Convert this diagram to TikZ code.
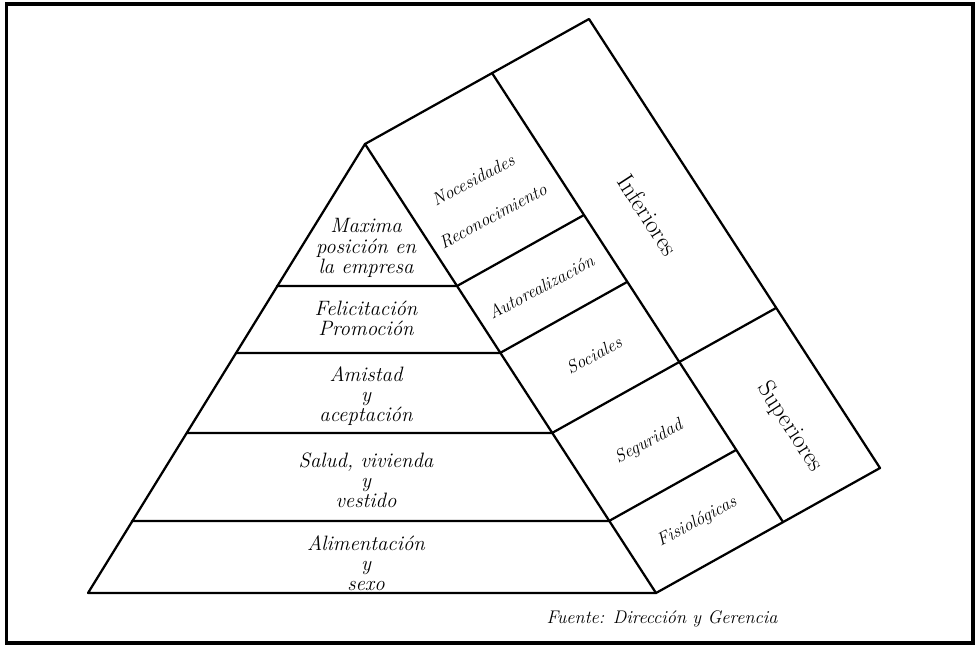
\documentclass[tikz,border=0pt]{standalone}
\usepackage{tikz}
\usetikzlibrary{positioning,calc}

\tikzset{
  edge/.style={line width=1.6pt, line join=round, line cap=round},
  level/.style={font=\fontsize{14.8}{14.3}\selectfont\itshape, align=center, inner sep=0pt},
  need/.style={font=\fontsize{12.7}{12.7}\selectfont\itshape, rotate=28, inner sep=0pt},
  group/.style={font=\fontsize{17.5}{17.5}\selectfont, rotate=-57, inner sep=0pt},
}

\begin{document}
\begin{tikzpicture}[x=0.025cm, y=-0.025cm]
    \useasboundingbox (0,0) rectangle (977,645);
    % Frame
    \draw[line width=2.6pt] (6.5,4) rectangle (973,643);

    % Corners
    \coordinate (apex) at (365,144);
    \coordinate (backtop) at (589,19);
    \coordinate (backright) at (880,468);
    \coordinate (right) at (656,593);
    \coordinate (left) at (88,593);
    \coordinate (split top) at (492,73);
    \coordinate (split bot) at (783,522);

    % Structure
    \draw[edge] (left) -- (apex) -- (backtop) -- (backright) -- (right) -- cycle;
    \draw[edge] (apex) -- (right);
    \draw[edge] (split top) -- (split bot);

    % Layers
    \draw[edge] (277,286) -- (457,286) -- (584,215);
    \draw[edge] (236,353) -- (500,353) -- (627,282);
    \draw[edge] (187,433) -- (552,433) -- (776,308);
    \draw[edge] (132,521) -- (609,521) -- (736,450);

    % Front labels
    \node[level] (maxima) at (366,248) {Maxima\\posición en\\la empresa};
    \node[level] (felic) at (366,318) {Felicitación\\Promoción};
    \node[level] (amistad) at (366,396) {Amistad\\y\\aceptación};
    \node[level] (salud) at (366,480) {Salud, vivienda\\y\\vestido};
    \node[level] (alim) at (366,563) {Alimentación\\y\\sexo};

    % Side labels
    \node[need] (nece) at (473,180) {Nocesidades};
    \node[need] (recon) at (493,216) {Reconocimiento};
    \node[need] (autor) at (541,287) {Autorealización};
    \node[need] (soc) at (594,355) {Sociales};
    \node[need] (seg) at (649,442) {Seguridad};
    \node[need] (fisio) at (697,522) {Fisiológicas};

    \node[group] (inf) at (648,215) {Inferiores};
    \node[group] (sup) at (790,427) {Superiores};

    \node[font=\fontsize{13}{13}\selectfont\itshape] (fuente) at (662,619) {Fuente: Dirección y Gerencia};
\end{tikzpicture}
\end{document}
